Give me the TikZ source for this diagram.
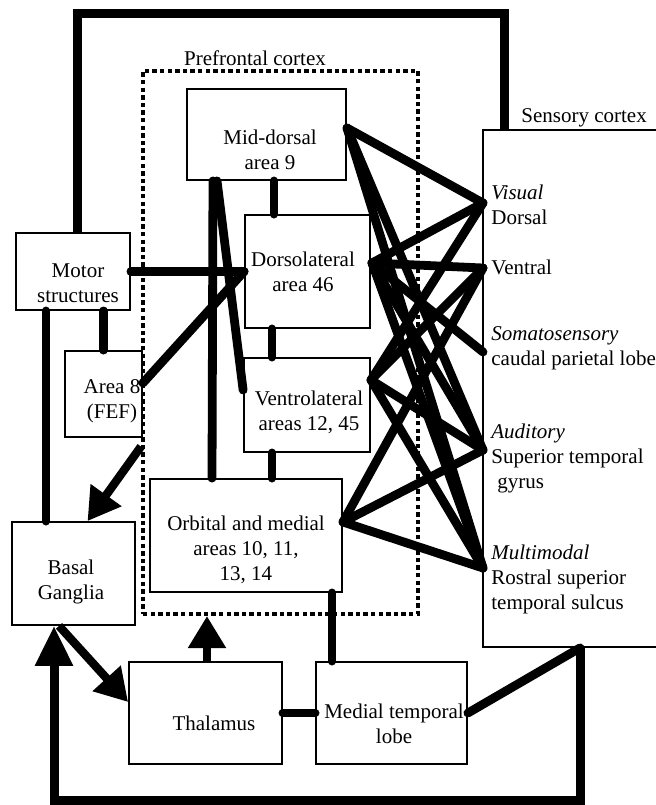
\documentclass[tikz,border=0pt]{standalone}
\usepackage{fontspec}
\setmainfont{Liberation Serif}
\usetikzlibrary{arrows.meta}
\tikzset{
  box/.style={draw, line width=0.9pt, inner sep=0pt},
  pfcbox/.style={draw, line width=2pt, dash pattern=on 2.2pt off 1.6pt, inner sep=0pt},
  txt/.style={align=center, inner sep=0pt},
  lab/.style={align=left, anchor=west, inner sep=0pt},
  link/.style={line width=4.4pt, line cap=round},
  loopline/.style={line width=4.5pt},
  arr/.style={line width=4.2pt, -{Triangle[length=16pt,width=18pt]}},
}
\begin{document}
\begin{tikzpicture}[x=0.5pt, y=-0.5pt, every node/.style={font=\fontsize{10.5}{12.5}\selectfont}]
  \useasboundingbox (0,0) rectangle (656,805);
  \node[pfcbox, minimum width=137.5pt, minimum height=271.5pt] (pfc) at (280.5,342.5) {};
  \node[box, minimum width=79.5pt, minimum height=45.5pt] (md) at (266.5,134.5) {};
  \node[box, minimum width=62.5pt, minimum height=56.5pt] (dl) at (307.5,271.5) {};
  \node[box, minimum width=63pt, minimum height=47pt] (vl) at (307,405) {};
  \node[box, minimum width=96pt, minimum height=56.5pt] (om) at (246,535.5) {};
  \node[box, minimum width=57pt, minimum height=38.5pt] (mot) at (73,271.5) {};
  \node[box, minimum width=38.5pt, minimum height=43pt] (fef) at (103.5,394) {};
  \node[box, minimum width=61.5pt, minimum height=51.5pt] (bg) at (73.5,573.5) {};
  \node[box, minimum width=76.5pt, minimum height=51pt] (th) at (205.5,713) {};
  \node[box, minimum width=75.5pt, minimum height=51pt] (mtl) at (391.5,713) {};
  \node[box, minimum width=93.5pt, minimum height=258.5pt] (sc) at (576.5,388.5) {};

  \node[txt] (pfct) at (255,58) {Prefrontal cortex};
  \node[txt] (mdt) at (270,150) {Mid-dorsal\\area 9};
  \node[txt] (dlt) at (303,272) {Dorsolateral\\area 46};
  \node[txt] (vlt) at (309,412) {Ventrolateral\\areas 12, 45};
  \node[txt] (omt) at (246,550) {Orbital and medial\\areas 10, 11,\\13, 14};
  \node[txt] (mott) at (78,283) {Motor\\structures};
  \node[txt] (feft) at (112,401) {Area 8\\(FEF)};
  \node[txt] (bgt) at (71,582) {Basal\\Ganglia};
  \node[txt] (tht) at (214,723) {Thalamus};
  \node[txt] (mtlt) at (394,724) {Medial temporal\\lobe};
  \node[lab] (sct) at (521,118) {Sensory cortex};
  \node[lab] (vist) at (491,205) {\textit{Visual}\\Dorsal};
  \node[lab] (vent) at (491,267) {Ventral};
  \node[lab] (somt) at (491,348) {\textit{Somatosensory}\\caudal parietal lobe};
  \node[lab] (audt) at (491,458) {\textit{Auditory}\\Superior temporal\\\hspace{3pt}gyrus};
  \node[lab] (mult) at (491,579) {\textit{Multimodal}\\Rostral superior\\temporal sulcus};

  \coordinate (vis) at (483,203);
  \coordinate (ven) at (483,268);
  \coordinate (som) at (483,352);
  \coordinate (aud) at (483,450);
  \coordinate (mul) at (483,568);
  \coordinate (pm) at (347,128);
  \coordinate (pd) at (372,263);
  \coordinate (pv) at (371,380);
  \coordinate (po) at (343,522);
  \coordinate (c1) at (274,0);
  \coordinate (c2) at (272,0);
  \coordinate (c3) at (332,0);
  \coordinate (c4) at (207,0);
  \coordinate (c5) at (46,0);
  \coordinate (tl) at (77,13);
  \coordinate (tr) at (504,13);
  \coordinate (bl) at (54,800);
  \coordinate (br) at (580,800);

  \foreach \a/\b in {pm/vis,pm/aud,pm/mul,pd/vis,pd/ven,pd/som,pd/aud,pd/mul,pv/vis,pv/ven,pv/aud,pv/mul,po/ven,po/aud,po/mul}
    \draw[link] (\a) -- (\b);

  \draw[link] (md.south -| c1) -- (dl.north -| c1);
  \draw[link] (dl.south -| c2) -- (vl.north -| c2);
  \draw[link] (vl.south -| c2) -- (om.north -| c2);
  \draw[link] (om.south -| c3) -- (mtl.north -| c3);
  \draw[link] ([xshift=-26.75pt]md.south) -- ([xshift=-17pt]om.north);
  \draw[link] ([xshift=-24.75pt]md.south) -- ([yshift=7.5pt]vl.west);
  \draw[link] (mot) -- (dl);
  \draw[link] ([yshift=5.5pt]fef.east) -- (dl.west);
  \draw[link] (mot.south -| fef) -- (fef);
  \draw[link] (mot.south -| c5) -- (bg.north -| c5);
  \draw[link] (th) -- (mtl);
  \draw[link] (mtl.east) -- (sc.south -| br);
  \draw[arr] ([yshift=-52pt]pfc.west) -- ([xshift=7pt]bg.north);
  \draw[arr] (th.north -| c4) -- (pfc.south -| c4);
  \draw[arr] ([xshift=-7.25pt]bg.south) -- ([yshift=5.5pt]th.west);
  \draw[loopline] (mot.north -| tl) -- (tl) -- (tr) -- (sc.north -| tr);
  \draw[arr, loopline, -{Triangle[length=20pt,width=18pt]}] (sc.south -| br) -- (br) -- (bl) -- (bg.south -| bl);
\end{tikzpicture}
\end{document}
